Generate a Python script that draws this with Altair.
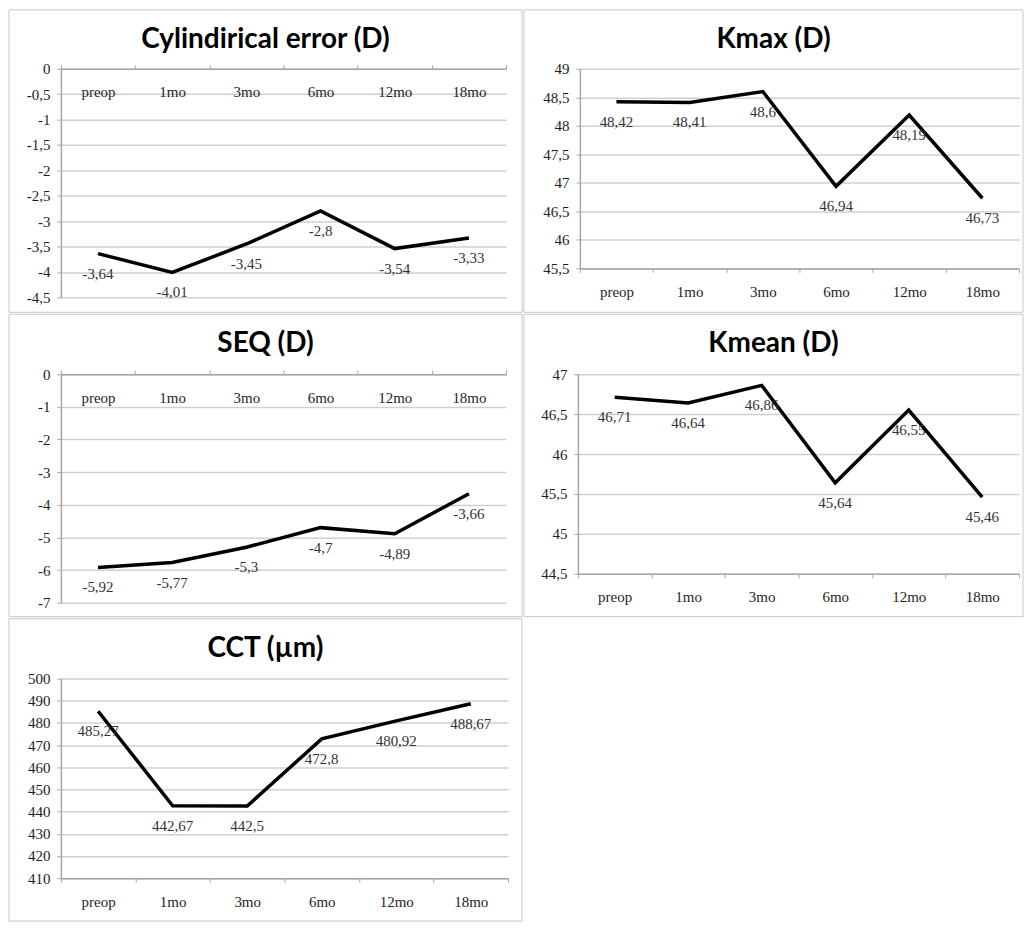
import altair as alt
import pandas as pd

categories = ["preop", "1mo", "3mo", "6mo", "12mo", "18mo"]

cyl_values = [-3.64, -4.01, -3.45, -2.8, -3.54, -3.33]
kmax_values = [48.42, 48.41, 48.6, 46.94, 48.19, 46.73]
seq_values = [-5.92, -5.77, -5.3, -4.7, -4.89, -3.66]
kmean_values = [46.71, 46.64, 46.86, 45.64, 46.55, 45.46]
cct_values = [485.27, 442.67, 442.5, 472.8, 480.92, 488.67]

cyl_ticks = [0, -0.5, -1, -1.5, -2, -2.5, -3, -3.5, -4, -4.5]
kmax_ticks = [45.5, 46, 46.5, 47, 47.5, 48, 48.5, 49]
seq_ticks = [0, -1, -2, -3, -4, -5, -6, -7]
kmean_ticks = [44.5, 45, 45.5, 46, 46.5, 47]
cct_ticks = [410, 420, 430, 440, 450, 460, 470, 480, 490, 500]

titles = ["Cylindirical error (D)", "Kmax (D)", "SEQ (D)", "Kmean (D)", "CCT  (\u00b5m)"]

SERIF = "Liberation Serif"
TITLE_FONT = "Lato"
LABEL_EXPR = "replace('' + datum.value, '.', ',')"
GRAY = "#a6a6a6"


def fmt(v):
    return f"{v:g}".replace(".", ",")


def panel(values, title, ticks, width, height, top_axis, frame):
    left, top, right, bottom = frame
    df = pd.DataFrame({
        "period": categories,
        "value": values,
        "label": [fmt(v) for v in values],
    })
    lo, hi = min(ticks), max(ticks)
    xaxis = alt.Axis(
        orient="top" if top_axis else "bottom",
        title=None, labelAngle=0, tickBand="extent", grid=False,
        domainColor=GRAY, domainWidth=1.5, tickColor=GRAY, tickSize=4,
        labelFont=SERIF, labelFontSize=15, labelColor="#1e1e1e",
        labelBaseline="middle", labelPadding=-27 if top_axis else 19,
    )
    yaxis = alt.Axis(
        values=ticks, labelExpr=LABEL_EXPR, title=None,
        grid=True, gridColor="#cfcfcf", gridWidth=1.5,
        domainColor=GRAY, domainWidth=1.5, tickColor=GRAY, tickSize=4,
        labelFont=SERIF, labelFontSize=15, labelColor="#1e1e1e", labelPadding=7,
    )
    x = alt.X("period:N", sort=categories,
              scale=alt.Scale(type="band", paddingInner=0, paddingOuter=0),
              axis=xaxis, bandPosition=0.5)
    y = alt.Y("value:Q", scale=alt.Scale(domain=[lo, hi], nice=False, zero=False),
              axis=yaxis)
    base = alt.Chart(df)
    line = base.mark_line(color="black", strokeWidth=3.5).encode(x=x, y=y)
    text = base.mark_text(dy=20, font=SERIF, fontSize=15, color="#333333",
                          baseline="middle").encode(x=x, y=y, text="label:N")
    frame_df = pd.DataFrame({"title": [title]})
    border = alt.Chart(frame_df).mark_rect(
        fillOpacity=0, stroke="#c8c8c8", strokeWidth=1
    ).encode(
        x=alt.value(-left), x2=alt.value(width + right),
        y=alt.value(-top), y2=alt.value(height + bottom),
    )
    heading = alt.Chart(frame_df).mark_text(
        font=TITLE_FONT, fontSize=28, fontWeight="bold", color="black",
        align="center", baseline="middle",
    ).encode(
        x=alt.value((width + right - left) / 2),
        y=alt.value(30 - top),
        text="title:N",
    )
    return alt.layer(border, heading, line, text).properties(width=width, height=height)


p1 = panel(cyl_values, titles[0], cyl_ticks, 446, 229, True, (52, 59, 16, 15))
p2 = panel(kmax_values, titles[1], kmax_ticks, 440, 200, False, (56, 59, 4, 44))
p3 = panel(seq_values, titles[2], seq_ticks, 446, 229, True, (52, 60, 16, 14))
p4 = panel(kmean_values, titles[3], kmean_ticks, 442, 200, False, (54, 60, 4, 43))
p5 = panel(cct_values, titles[4], cct_ticks, 448, 200, False, (52, 60, 14, 43))

chart = alt.concat(
    p1, p2, p3, p4, p5,
    columns=2, spacing=0, align="none",
).properties(padding=0).configure_view(strokeWidth=0)

chart.save("out.html", embed_options={"renderer": "svg", "actions": False})
